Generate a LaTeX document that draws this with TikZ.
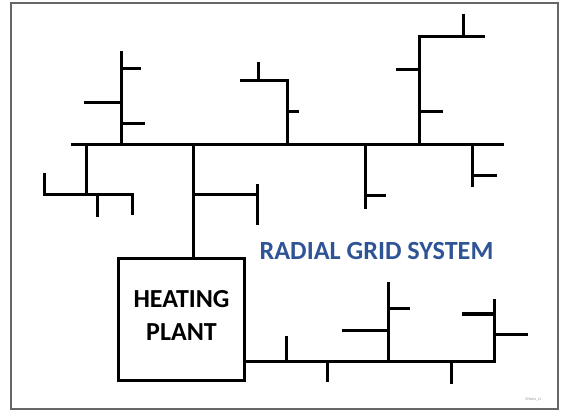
\documentclass[tikz,border=0pt]{standalone}
\usepackage{fontspec}
\setmainfont{Carlito}
\usepackage{xcolor}
\usepackage{tikz}
\usetikzlibrary{positioning,calc}
\definecolor{titleblue}{HTML}{2F5496}

\begin{document}
\begin{tikzpicture}[
  x=1pt, y=-1pt,
  pipe/.style={line width=3pt, line join=miter},
  frame/.style={draw=black!60, line width=1.3pt},
  plantbox/.style={draw, line width=3.5pt, minimum width=126pt, minimum height=122pt, inner sep=0pt},
  plantlabel/.style={align=center, font=\fontsize{26}{33}\selectfont\bfseries, inner sep=0pt},
  title/.style={text=titleblue, font=\fontsize{26.2}{30}\selectfont\bfseries, inner sep=0pt},
  tag/.style={text=black!45, font=\fontsize{3.5}{4}\selectfont, inner sep=0pt},
]
\useasboundingbox (0,0) rectangle (561,412);
\draw[frame] (11,3) rectangle (558,409);

\node[plantbox] (plant) at (181.5,319.5) {};
\node[plantlabel] (plantname) at ($(plant.center)+(0,-4.5)$) {HEATING\\PLANT};
\node[title] (name) at (376.5,251) {RADIAL GRID SYSTEM};
\node[tag] (ref) at (533.5,400) {EP0401\_15};

\coordinate (feed) at (193,144);
\coordinate (ret) at (494,361);

\draw[pipe] (71,144) -- (504,144);
\draw[pipe] (feed) -- (feed |- plant.north);
\draw[pipe] (ret -| plant.east) -- (ret) -- (494,299);

\draw[pipe] (121,144) -- (121,51);
\draw[pipe] (121,68) -- (141,68);
\draw[pipe] (84,102) -- (121,102);
\draw[pipe] (121,123) -- (145,123);

\draw[pipe] (86,144) -- (86,194);
\draw[pipe] (44,173) -- (44,194) -- (132,194) -- (132,215);
\draw[pipe] (97,194) -- (97,217);

\draw[pipe] (193,194) -- (257,194);
\draw[pipe] (257,184) -- (257,225);

\draw[pipe] (287,144) -- (287,80) -- (240,80);
\draw[pipe] (258,62) -- (258,80);
\draw[pipe] (287,111) -- (299,111);

\draw[pipe] (365,144) -- (365,209);
\draw[pipe] (365,195) -- (386,195);

\draw[pipe] (419,144) -- (419,37) -- (485,37);
\draw[pipe] (463,14) -- (463,37);
\draw[pipe] (396,69) -- (419,69);
\draw[pipe] (419,111) -- (443,111);

\draw[pipe] (472,144) -- (472,187);
\draw[pipe] (472,175) -- (497,175);

\draw[pipe] (286,336) -- (286,361);
\draw[pipe] (327,361) -- (327,382);
\draw[pipe] (388,361) -- (388,282);
\draw[pipe] (388,308) -- (410,308);
\draw[pipe] (342,330) -- (388,330);
\draw[pipe] (451,361) -- (451,384);
\draw[pipe, line width=4pt] (462,314) -- (494,314);
\draw[pipe] (494,334) -- (528,334);
\end{tikzpicture}
\end{document}
